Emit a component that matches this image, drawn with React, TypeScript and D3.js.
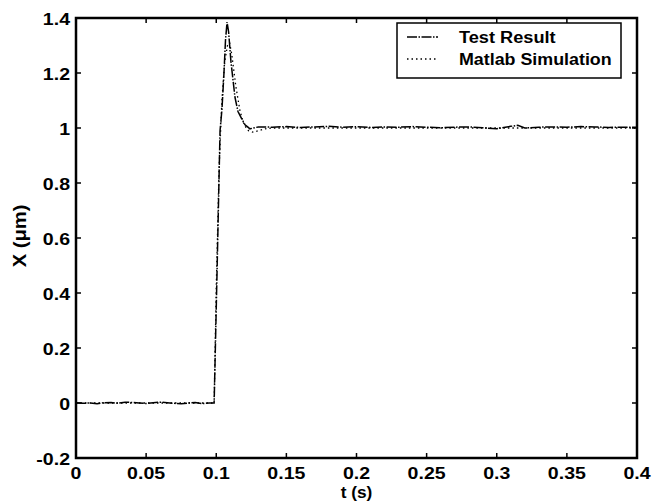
import React from 'react';
import * as d3 from 'd3';

// time (s) and displacement (um)
const testTime = [
  0, 0.005, 0.01, 0.015, 0.02, 0.025, 0.03, 0.035, 0.04, 0.045, 0.05, 0.055, 0.06, 0.065, 0.07, 0.075, 0.08, 0.085, 0.09, 0.095, 0.0985,
  0.1005, 0.1027, 0.1041, 0.1055, 0.1066, 0.1077, 0.1088, 0.1105, 0.1134, 0.1155, 0.118, 0.1205, 0.1226, 0.124, 0.1265, 0.13,
  0.14, 0.15, 0.16, 0.17, 0.18, 0.19, 0.2, 0.21, 0.22, 0.23, 0.24, 0.25, 0.26, 0.27, 0.28, 0.29, 0.3, 0.305, 0.31, 0.315, 0.32,
  0.33, 0.34, 0.35, 0.36, 0.37, 0.38, 0.39, 0.4,
];
const testValue = [
  0.001, -0.001, 0.0, -0.003, 0.001, 0.002, -0.001, 0.003, 0.002, 0.0, -0.002, 0.001, 0.003, 0.001, -0.001, -0.003, 0.0, 0.002, -0.002, 0.0, 0.0,
  0.46, 0.99, 1.07, 1.2, 1.32, 1.385, 1.35, 1.24, 1.11, 1.06, 1.035, 1.012, 1.003, 0.997, 1.0, 1.004,
  1.003, 1.005, 1.002, 1.004, 1.006, 1.003, 1.005, 1.002, 1.004, 1.003, 1.005, 1.003, 1.001, 1.003, 1.004, 1.001, 0.997, 1.002, 1.006, 1.01, 1.0,
  1.003, 1.004, 1.003, 1.005, 1.004, 1.002, 1.003, 1.003,
];

const simTime = [0, 0.0985, 0.1, 0.102, 0.104, 0.106, 0.108, 0.1095, 0.111, 0.114, 0.117, 0.12, 0.123, 0.126, 0.13, 0.135, 0.14, 0.4];
const simValue = [0, 0, 0.42, 0.85, 1.1, 1.24, 1.3, 1.31, 1.27, 1.15, 1.06, 1.01, 0.99, 0.985, 0.99, 0.997, 1.0, 1.0];

const xTicks = [0, 0.05, 0.1, 0.15, 0.2, 0.25, 0.3, 0.35, 0.4];
const xTickLabels = ['0', '0.05', '0.1', '0.15', '0.2', '0.25', '0.3', '0.35', '0.4'];
const yTicks = [-0.2, 0, 0.2, 0.4, 0.6, 0.8, 1, 1.2, 1.4];
const yTickLabels = ['-0.2', '0', '0.2', '0.4', '0.6', '0.8', '1', '1.2', '1.4'];

const seriesNames = ['Test Result', 'Matlab Simulation'];

const W = 663, H = 502;
const margin = { top: 18, right: 26, bottom: 44, left: 76 };
const font = '"Liberation Sans", Arial, Helvetica, sans-serif';
const dashDot = '10,1.5,1.5,1.5';
const dotted = '1.5,3';

// text that is a little wider than the font, like the scanned figure
function Label(props: { x: number; y: number; sx?: number; anchor?: string; size?: number; children: React.ReactNode }) {
  const { x, y, sx = 1.15, anchor = 'start', size = 17 } = props;
  return (
    <g transform={`translate(${x},${y}) scale(${sx},1)`}>
      <text x={0} y={0} textAnchor={anchor} fontSize={size}>{props.children}</text>
    </g>
  );
}

export default function App() {
  const x = d3.scaleLinear().domain([0, 0.4]).range([margin.left, W - margin.right]);
  const y = d3.scaleLinear().domain([-0.2, 1.4]).range([H - margin.bottom, margin.top]);

  const line = d3.line<[number, number]>().x(d => x(d[0])).y(d => y(d[1]));
  const testPath = line(testTime.map((t, i) => [t, testValue[i]]) as [number, number][]);
  const simPath = line(simTime.map((t, i) => [t, simValue[i]]) as [number, number][]);

  const x0 = x(0), x1 = x(0.4), y0 = y(-0.2), y1 = y(1.4);
  const tick = 5;

  return (
    <svg width={W} height={H} style={{ position: 'absolute', left: 0, top: 0, background: '#fff' }}
      fontFamily={font} fontWeight="bold" fontSize={17}>
      <rect x={0} y={0} width={W} height={H} fill="#fff" />

      {/* data */}
      <path d={simPath || ''} fill="none" stroke="#000" strokeWidth={1.3} strokeDasharray={dotted} />
      <path d={testPath || ''} fill="none" stroke="#000" strokeWidth={1.5} strokeDasharray={dashDot} />

      {/* ticks on all four sides */}
      {xTicks.map((t, i) => (
        <g key={'xt' + i}>
          <line x1={x(t)} x2={x(t)} y1={y0} y2={y0 - tick} stroke="#000" strokeWidth={1.5} />
          <line x1={x(t)} x2={x(t)} y1={y1} y2={y1 + tick} stroke="#000" strokeWidth={1.5} />
          <Label x={x(t)} y={y0 + 21} anchor="middle">{xTickLabels[i]}</Label>
        </g>
      ))}
      {yTicks.map((v, i) => (
        <g key={'yt' + i}>
          <line x1={x0} x2={x0 + tick} y1={y(v)} y2={y(v)} stroke="#000" strokeWidth={1.5} />
          <line x1={x1} x2={x1 - tick} y1={y(v)} y2={y(v)} stroke="#000" strokeWidth={1.5} />
          <Label x={x0 - 6} y={y(v) + 6.5} anchor="end">{yTickLabels[i]}</Label>
        </g>
      ))}

      {/* box */}
      <rect x={x0} y={y1} width={x1 - x0} height={y0 - y1} fill="none" stroke="#000" strokeWidth={2.5} />

      {/* axis labels */}
      <Label x={(x0 + x1) / 2} y={498} sx={1.08} size={16} anchor="middle">t (s)</Label>
      <g transform={`translate(26,236) rotate(-90) scale(1.12,1)`}>
        <text x={0} y={0} textAnchor="middle" fontSize={18}>X (μm)</text>
      </g>

      {/* legend */}
      <rect x={397} y={23} width={224} height={55} fill="#fff" stroke="#000" strokeWidth={1.5} />
      <line x1={407} x2={438} y1={37} y2={37} stroke="#000" strokeWidth={1.5} strokeDasharray={dashDot} />
      <line x1={407} x2={438} y1={59} y2={59} stroke="#000" strokeWidth={1.3} strokeDasharray={dotted} />
      <Label x={459} y={43} sx={1.07}>{seriesNames[0]}</Label>
      <Label x={459} y={65} sx={1.05}>{seriesNames[1]}</Label>
    </svg>
  );
}
